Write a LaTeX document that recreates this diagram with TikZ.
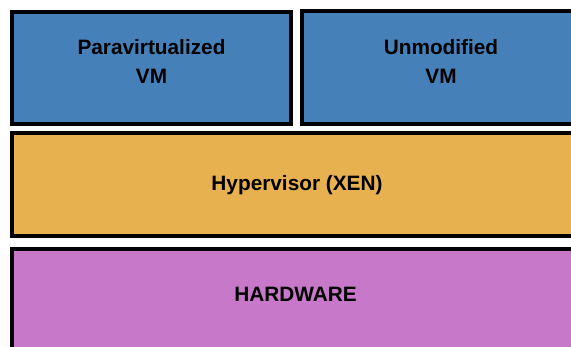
\documentclass[tikz,border=0pt]{standalone}
\usepackage{fontspec}
\setmainfont{Liberation Sans}
\definecolor{vmblue}{HTML}{4680B9}
\definecolor{hvorange}{HTML}{E8B150}
\definecolor{hwpink}{HTML}{C878C8}
\tikzset{
  layer/.style={draw=black, line width=4pt, rectangle, inner sep=0pt},
  lbl/.style={font=\fontsize{20.8}{29}\selectfont\bfseries, align=center, inner sep=0pt, text=black}
}
\begin{document}
\begin{tikzpicture}[x=1pt, y=-1pt]
  \useasboundingbox (0,0) rectangle (571,347);
  \clip (0,0) rectangle (571,347);
  \fill[white] (0,0) rectangle (571,347);
  % virtual machines
  \node[layer, fill=vmblue, minimum width=279pt, minimum height=112pt] (para) at (151.5,68) {};
  \node[layer, fill=vmblue, minimum width=278pt, minimum height=113pt] (unmod) at (441,67.5) {};
  % hypervisor and hardware layers
  \node[layer, fill=hvorange, minimum width=570pt, minimum height=103pt] (xen) at (297,184.5) {};
  \node[layer, fill=hwpink, minimum width=570pt, minimum height=120pt] (hw) at (297,309) {};
  % labels (base anchor sits on the last line's baseline)
  \node[lbl, anchor=base] (paratext) at (151.5,84) {Paravirtualized\\VM};
  \node[lbl, anchor=base] (unmodtext) at (441,84) {Unmodified\\VM};
  \node[lbl, anchor=base] (xentext) at (297,191) {Hypervisor (XEN)};
  \node[lbl, anchor=base] (hwtext) at (295.5,302) {HARDWARE};
\end{tikzpicture}
\end{document}
